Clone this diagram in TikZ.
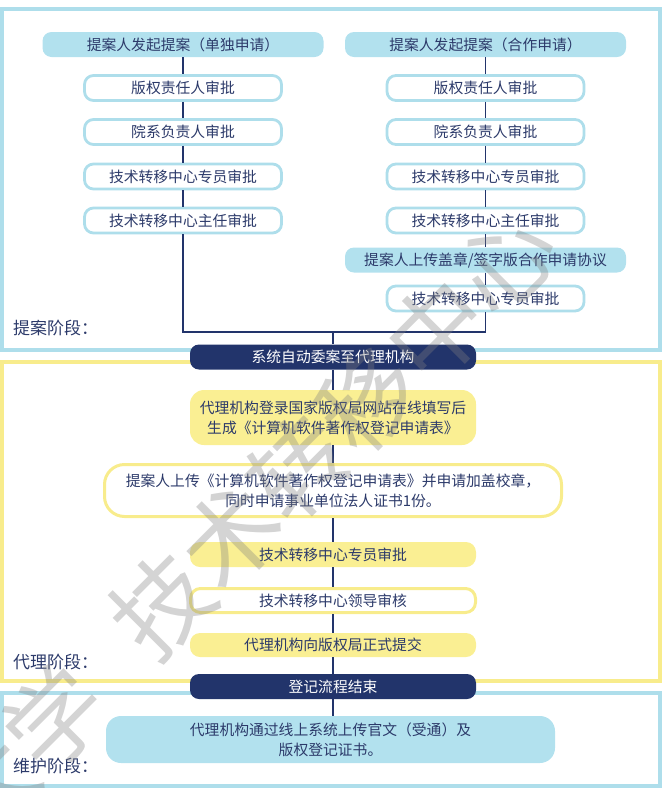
\documentclass[tikz,border=0pt]{standalone}
\usepackage{fontspec}
\setmainfont{Noto Sans CJK SC}
\definecolor{lbfill}{HTML}{B2E1EE}
\definecolor{lbline}{HTML}{AEDEEB}
\definecolor{yfill}{HTML}{FAEF93}
\definecolor{yline}{HTML}{F8EC8C}
\definecolor{navy}{HTML}{22346B}
\definecolor{txt}{HTML}{2C3A6A}
\begin{document}
\begin{tikzpicture}[x=1pt,y=-1pt,
  every node/.style={font=\fontsize{14.8}{20}\selectfont, text=txt, inner sep=0pt, align=center},
  head/.style={fill=lbfill, rounded corners=9pt, minimum width=281pt, minimum height=25pt},
  chk/.style={draw=lbline, line width=2.8pt, fill=white, rounded corners=9pt, minimum width=197pt, minimum height=25pt},
  navybox/.style={fill=navy, text=white, rounded corners=9pt, minimum width=286pt, minimum height=25pt},
  ybox/.style={fill=yfill, rounded corners=10pt, minimum width=286pt, minimum height=25pt},
  yline box/.style={draw=yline, line width=3pt, fill=white, rounded corners=10pt, minimum width=285pt, minimum height=24pt},
  phase/.style={font=\fontsize{17}{20}\selectfont, anchor=west},
  link/.style={draw=navy, line width=1.8pt},
  wm/.style={font=\fontsize{97}{97}\selectfont, text=gray, text opacity=0.34, rotate=45}]
  \useasboundingbox (0,0) rectangle (662,788);
  \draw[lbline, line width=3.5pt] (2,9) rectangle (660,350);
  \draw[yline, line width=4pt] (2,362) rectangle (660,681);
  \draw[lbline, line width=3.5pt] (2,693) rectangle (660,786);

  \node[head] (L0) at (183,44.5) {提案人发起提案（单独申请）};
  \node[chk] (L1) at (183,88) {版权责任人审批};
  \node[chk] (L2) at (183,132) {院系负责人审批};
  \node[chk] (L3) at (183,176.5) {技术转移中心专员审批};
  \node[chk] (L4) at (183,220.5) {技术转移中心主任审批};
  \node[head] (R0) at (485.5,44.5) {提案人发起提案（合作申请）};
  \node[chk] (R1) at (485.5,88) {版权责任人审批};
  \node[chk] (R2) at (485.5,132) {院系负责人审批};
  \node[chk] (R3) at (485.5,176.5) {技术转移中心专员审批};
  \node[chk] (R4) at (485.5,220.5) {技术转移中心主任审批};
  \node[head] (R5) at (485.5,260) {提案人上传盖章/签字版合作申请协议};
  \node[chk] (R6) at (485.5,298.5) {技术转移中心专员审批};
  \coordinate (jn) at (333,332);
  \node[phase] (p1) at (13,328) {提案阶段：};

  \node[navybox] (N1) at (333,357) {系统自动委案至代理机构};
  \node[ybox, minimum height=55pt, rounded corners=14pt] (Y1) at (333,417.5) {代理机构登录国家版权局网站在线填写后\\生成《计算机软件著作权登记申请表》};
  \node[yline box, minimum width=457pt, minimum height=52pt, rounded corners=20pt] (W1) at (333,490.5) {提案人上传《计算机软件著作权登记申请表》并申请加盖校章，\\同时申请事业单位法人证书1份。};
  \node[ybox] (Y2) at (333,554.5) {技术转移中心专员审批};
  \node[yline box] (W2) at (333,600.5) {技术转移中心领导审核};
  \node[ybox, minimum height=24pt] (Y3) at (333,645) {代理机构向版权局正式提交};
  \node[phase] (p2) at (13,662) {代理阶段：};
  \node[navybox] (N2) at (333,686.5) {登记流程结束};

  \node[fill=lbfill, rounded corners=15pt, minimum width=449pt, minimum height=47pt] (B1) at (330.5,739.5) {代理机构通过线上系统上传官文（受通）及\\版权登记证书。};
  \node[phase] (p3) at (13,766) {维护阶段：};

  \foreach \a/\b in {L0/L1,L1/L2,L2/L3,L3/L4,R0/R1,R1/R2,R2/R3,R3/R4,R4/R5,R5/R6,N1/Y1,Y1/W1,W1/Y2,Y2/W2,W2/Y3,Y3/N2}
    \draw[link] (\a) -- (\b);
  \draw[link] (L4) |- (jn) -| (R6);
  \draw[link] (jn) -- (N1);
  \draw[link] (N2) -- (N2 |- B1.north);

  \node[wm] (wm1) at (333.5,433.5) {技术转移中心};
  \node[wm] (wm2) at (20.5,752.5) {大学};
\end{tikzpicture}
\end{document}
